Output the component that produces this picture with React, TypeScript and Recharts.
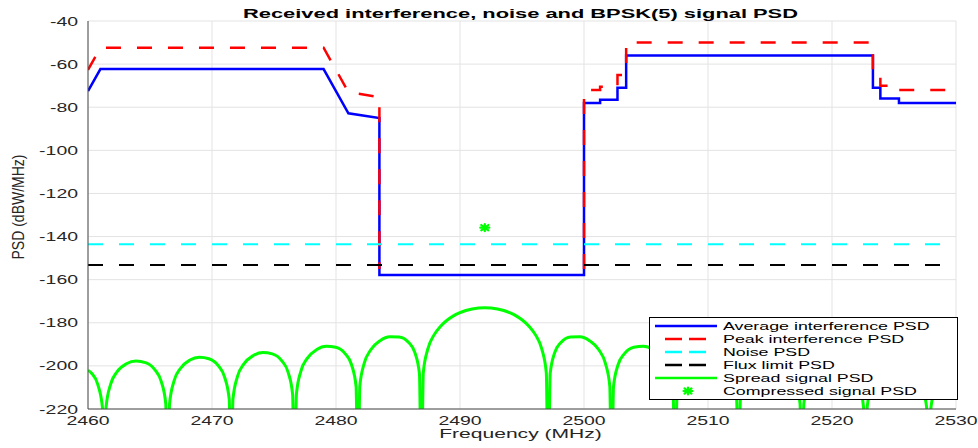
import React from 'react';
import { ComposedChart, Line, Scatter, XAxis, YAxis, CartesianGrid, Legend } from 'recharts';

const chartTitle = 'Received interference, noise and BPSK(5) signal PSD';
const xLabel = 'Frequency (MHz)';
const yLabel = 'PSD (dBW/MHz)';

const xTicks = [2460, 2470, 2480, 2490, 2500, 2510, 2520, 2530];
const yTicks = [-220, -200, -180, -160, -140, -120, -100, -80, -60, -40];

const avgFreq = [2460, 2461, 2479, 2481, 2483.5, 2483.5, 2500, 2500, 2501.3, 2501.3, 2502.7, 2502.7, 2503.4, 2503.4, 2523.3, 2523.3, 2523.9, 2523.9, 2525.4, 2525.4, 2530];
const avgPsd = [-72.5, -62.3, -62.3, -82.8, -85, -157.8, -157.8, -78, -78, -76.5, -76.5, -71, -71, -56, -56, -71, -71, -76, -76, -78, -78];

// null = gap in the peak curve (no horizontal segment drawn across the band)
const peakFreq = [2460, 2461, 2479, 2481, 2483.5, 2483.5, 2491, 2500, 2500, 2501.3, 2501.3, 2502.7, 2502.7, 2503.4, 2503.4, 2523.3, 2523.3, 2523.9, 2523.9, 2525.4, 2525.4, 2530];
const peakPsd = [-62.7, -52.4, -52.4, -73, -75.3, -155, null, -155, -72, -72, -70.5, -70.5, -65, -65, -50, -50, -65, -65, -70, -70, -72, -72];

const noiseFreq = [2460, 2530];
const noisePsd = [-143.6, -143.6];

const fluxFreq = [2460, 2530];
const fluxPsd = [-153.2, -153.2];

const spreadFreq = [
  2460.0, 2460.29, 2460.8, 2461.16, 2461.31, 2461.46, 2461.82, 2462.33, 2463.1, 2463.87, 2464.63, 2465.4, 2465.91, 2466.27,
  2466.42, 2466.58, 2466.94, 2467.45, 2468.22, 2468.98, 2469.75, 2470.52, 2471.03, 2471.39,
  2471.54, 2471.69, 2472.05, 2472.56, 2473.33, 2474.1, 2474.86, 2475.63, 2476.14, 2476.5,
  2476.65, 2476.81, 2477.17, 2477.68, 2478.45, 2479.21, 2479.98, 2480.75, 2481.26, 2481.62,
  2481.77, 2481.92, 2482.28, 2482.79, 2483.56, 2484.33, 2485.09, 2485.86, 2486.37, 2486.73,
  2486.885, 2487.04, 2487.4, 2487.91, 2488.42, 2488.93, 2489.44, 2489.95, 2490.47, 2490.98, 2491.49,
  2492.0, 2492.51, 2493.02, 2493.53, 2494.05, 2494.56, 2495.07, 2495.58, 2496.09, 2496.6, 2496.96,
  2497.115, 2497.27, 2497.63, 2498.14, 2498.91, 2499.67, 2500.44, 2501.21, 2501.72, 2502.08,
  2502.23, 2502.38, 2502.74, 2503.25, 2504.02, 2504.79, 2505.55, 2506.32, 2506.83, 2507.19,
  2507.35, 2507.5, 2507.86, 2508.37, 2509.14, 2509.9, 2510.67, 2511.44, 2511.95, 2512.31,
  2512.46, 2512.61, 2512.97, 2513.48, 2514.25, 2515.02, 2515.78, 2516.55, 2517.06, 2517.42,
  2517.58, 2517.73, 2518.09, 2518.6, 2519.37, 2520.13, 2520.9, 2521.67, 2522.18, 2522.54,
  2522.69, 2522.84, 2523.2, 2523.71, 2524.48, 2525.25, 2526.01, 2526.78, 2527.29, 2527.65,
  2527.81, 2527.96, 2528.32, 2528.83, 2529.6, 2530.0,
];
const spreadPsd = [
  -202.0, -203.41, -208.85, -219.08, -260, -218.99, -208.56, -202.83, -198.98, -197.75, -198.51, -201.88, -207.29, -217.5,
  -260, -217.4, -206.94, -201.19, -197.29, -196.0, -196.71, -200.03, -205.4, -215.58,
  -260, -215.45, -204.96, -199.16, -195.19, -193.82, -194.44, -197.66, -202.97, -213.1,
  -260, -212.93, -202.39, -196.5, -192.41, -190.9, -191.36, -194.41, -199.58, -209.62,
  -260, -209.36, -198.72, -192.67, -188.29, -186.46, -186.55, -189.14, -193.97, -203.73,
  -260, -203.21, -192.23, -185.62, -181.69, -178.94, -176.92, -175.42, -174.33, -173.58, -173.14,
  -173.0, -173.14, -173.58, -174.33, -175.42, -176.92, -178.94, -181.69, -185.62, -192.23, -203.21,
  -260, -203.73, -193.97, -189.14, -186.55, -186.46, -188.29, -192.67, -198.72, -209.36,
  -260, -209.62, -199.58, -194.41, -191.36, -190.9, -192.41, -196.5, -202.39, -212.93,
  -260, -213.1, -202.97, -197.66, -194.44, -193.82, -195.19, -199.16, -204.96, -215.45,
  -260, -215.58, -205.4, -200.03, -196.71, -196.0, -197.29, -201.19, -206.94, -217.4,
  -260, -217.5, -207.29, -201.88, -198.51, -197.75, -198.98, -202.83, -208.56, -218.99,
  -260, -219.08, -208.85, -203.41, -200.0, -199.2, -200.4, -204.21, -209.92, -220.34,
  -260, -220.41, -210.17, -204.71, -201.27, -200.7,
];

const compressedFreq = [2492];
const compressedPsd = [-135.9];

const legendLabels = [
  'Average interference PSD',
  'Peak interference PSD',
  'Noise PSD',
  'Flux limit PSD',
  'Spread signal PSD',
  'Compressed signal PSD',
];

const toPoints = (xs: number[], ys: (number | null)[]) => xs.map((x, i) => ({ x, y: ys[i] }));

const avgData = toPoints(avgFreq, avgPsd);
const peakData = toPoints(peakFreq, peakPsd);
const noiseData = toPoints(noiseFreq, noisePsd);
const fluxData = toPoints(fluxFreq, fluxPsd);
const spreadData = toPoints(spreadFreq, spreadPsd);
const compressedData = toPoints(compressedFreq, compressedPsd);

const FONT = '"Liberation Sans", Arial, Helvetica, sans-serif';
const SX = 1.62;
const TEXT = '#262626';
const DASH = '15 16';

const XTick = (props: any) => {
  const { x, y, payload } = props;
  return (
    <g transform={`translate(${x},${y})`}>
      <text transform={`scale(${SX},1)`} y={16} textAnchor="middle" fontSize={12} fontFamily={FONT} fill={TEXT}>
        {payload.value}
      </text>
    </g>
  );
};

const YTick = (props: any) => {
  const { x, y, payload } = props;
  return (
    <g transform={`translate(${x - 10},${y})`}>
      <text transform={`scale(${SX},1)`} y={4.5} textAnchor="end" fontSize={12} fontFamily={FONT} fill={TEXT}>
        {payload.value}
      </text>
    </g>
  );
};

const Asterisk = ({ cx, cy }: any) => (
  <g stroke="#00ff00" strokeWidth={2.2} strokeLinecap="round">
    <line x1={cx - 4.5} y1={cy} x2={cx + 4.5} y2={cy} />
    <line x1={cx} y1={cy - 3.5} x2={cx} y2={cy + 3.5} />
    <line x1={cx - 3.5} y1={cy - 2.7} x2={cx + 3.5} y2={cy + 2.7} />
    <line x1={cx - 3.5} y1={cy + 2.7} x2={cx + 3.5} y2={cy - 2.7} />
  </g>
);

const legendSamples = [
  { color: '#0000ff', dashed: false, marker: false },
  { color: '#ff0000', dashed: true, marker: false },
  { color: '#00ffff', dashed: true, marker: false },
  { color: '#000000', dashed: true, marker: false },
  { color: '#00ff00', dashed: false, marker: false },
  { color: '#00ff00', dashed: false, marker: true },
];

const LegendBox = () => (
  <svg width={310} height={84} style={{ display: 'block' }}>
    <rect x={0.5} y={0.5} width={308} height={82} fill="#ffffff" stroke="#000000" strokeWidth={1} />
    {legendLabels.map((label, i) => {
      const cy = 9 + 13 * i;
      const s = legendSamples[i];
      return (
        <g key={label}>
          {s.marker ? (
            <Asterisk cx={39} cy={cy} />
          ) : s.dashed ? (
            <g stroke={s.color} strokeWidth={2.5}>
              <line x1={16} y1={cy} x2={33} y2={cy} />
              <line x1={40} y1={cy} x2={57} y2={cy} />
            </g>
          ) : (
            <line x1={6} y1={cy} x2={68} y2={cy} stroke={s.color} strokeWidth={2.5} />
          )}
          <text transform={`translate(74,${cy + 4}) scale(${SX},1)`} fontSize={11} fontFamily={FONT} fill="#000">
            {label}
          </text>
        </g>
      );
    })}
  </svg>
);

export default function App() {
  return (
    <div style={{ position: 'absolute', left: 0, top: 0, width: 978, height: 448, background: '#ffffff' }}>
      <ComposedChart width={978} height={448} margin={{ top: 21, right: 22, bottom: 0, left: 0 }}>
        <CartesianGrid stroke="#e3e3e3" strokeWidth={1} />
        <XAxis
          dataKey="x"
          type="number"
          domain={[2460, 2530]}
          ticks={xTicks}
          allowDataOverflow
          height={39}
          tickSize={0}
          tickMargin={0}
          tickLine={false}
          axisLine={{ stroke: '#4a4a4a', strokeWidth: 1 }}
          tick={<XTick />}
        />
        <YAxis
          type="number"
          domain={[-220, -40]}
          ticks={yTicks}
          allowDataOverflow
          width={88}
          tickSize={0}
          tickMargin={0}
          tickLine={false}
          axisLine={{ stroke: '#4a4a4a', strokeWidth: 1 }}
          tick={<YTick />}
        />
        <Line data={avgData} dataKey="y" type="linear" stroke="#0000ff" strokeWidth={2.5} dot={false} isAnimationActive={false} legendType="none" />
        <Line data={peakData} dataKey="y" type="linear" stroke="#ff0000" strokeWidth={2.5} strokeDasharray={DASH} dot={false} connectNulls={false} isAnimationActive={false} legendType="none" />
        <Line data={noiseData} dataKey="y" type="linear" stroke="#00ffff" strokeWidth={2} strokeDasharray={DASH} dot={false} isAnimationActive={false} legendType="none" />
        <Line data={fluxData} dataKey="y" type="linear" stroke="#000000" strokeWidth={2} strokeDasharray={DASH} dot={false} isAnimationActive={false} legendType="none" />
        <Line data={spreadData} dataKey="y" type="monotone" stroke="#00ff00" strokeWidth={3} dot={false} isAnimationActive={false} legendType="none" />
        <Scatter data={compressedData} dataKey="y" shape={(p: any) => <Asterisk cx={p.cx} cy={p.cy} />} isAnimationActive={false} legendType="none" />
        <Legend
          layout="vertical"
          align="center"
          verticalAlign="middle"
          content={() => <LegendBox />}
          wrapperStyle={{ position: 'absolute', left: 649, top: 317, width: 310, height: 84 }}
        />
      </ComposedChart>
      <svg width={978} height={448} style={{ position: 'absolute', left: 0, top: 0, pointerEvents: 'none' }}>
        <text transform={`translate(520.5,18) scale(${SX},1)`} textAnchor="middle" fontSize={13.5} fontWeight="bold" fontFamily={FONT} fill="#000">
          {chartTitle}
        </text>
        <text transform={`translate(520.5,438) scale(${SX},1)`} textAnchor="middle" fontSize={13} fontFamily={FONT} fill={TEXT}>
          {xLabel}
        </text>
        <text transform={`translate(24,207) scale(1.2,1) rotate(-90)`} textAnchor="middle" fontSize={14} fontFamily={FONT} fill={TEXT}>
          {yLabel}
        </text>
      </svg>
    </div>
  );
}
